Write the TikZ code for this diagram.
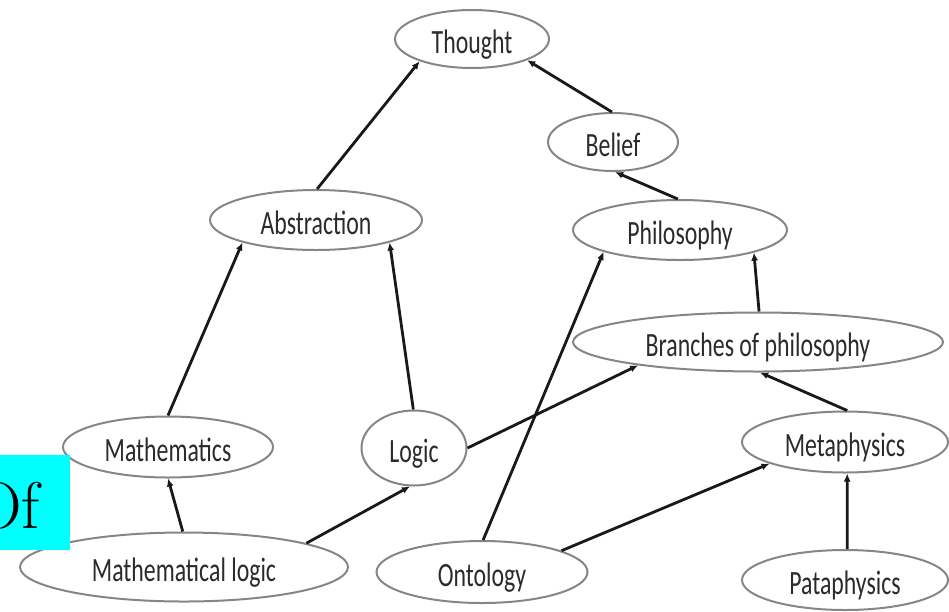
\documentclass[tikz,border=0pt]{standalone}
\usepackage{fontspec}
\usepackage{graphicx}
\newfontfamily\carlito{Carlito}
\usetikzlibrary{shapes.geometric,arrows.meta}
\definecolor{ellgray}{HTML}{868686}
\definecolor{txtgray}{HTML}{2B2B2B}
\definecolor{boxcyan}{HTML}{00FFFF}
\newcommand\cnq[1]{\scalebox{0.7}[1]{#1}}
\tikzset{
  concept/.style={ellipse, draw=ellgray, line width=2pt, inner sep=0pt,
    text height=29pt, text depth=0pt,
    text=txtgray, font=\carlito\fontsize{34}{38}\selectfont},
  arr/.style={draw=black!90, line width=2.8pt, -{Latex[length=8pt,width=7pt]}}
}
\begin{document}
\begin{tikzpicture}[x=1pt,y=-1pt]
\useasboundingbox (0,0) rectangle (949,611);
\clip (0,0) rectangle (949,611);
\fill[white] (0,0) rectangle (949,611);
% nodes
\node[concept, minimum width=154pt, minimum height=58pt] (tho) at (472,39) {\cnq{Thought}};
\node[concept, minimum width=130pt, minimum height=58pt] (bel) at (613,142) {\cnq{Belief}};
\node[concept, minimum width=212pt, minimum height=60pt] (abs) at (316,220) {\cnq{Abstraction}};
\node[concept, minimum width=214pt, minimum height=60pt] (phi) at (680,230) {\cnq{Philosophy}};
\node[concept, minimum width=370pt, minimum height=59pt] (bra) at (758,342) {\cnq{Branches of philosophy}};
\node[concept, minimum width=210pt, minimum height=61pt] (mat) at (168,447) {\cnq{Mathematics}};
\node[concept, minimum width=105pt, minimum height=75pt] (log) at (414,448) {\cnq{Logic}};
\node[concept, minimum width=206pt, minimum height=61pt] (met) at (845,442) {\cnq{Metaphysics}};
\node[concept, minimum width=328pt, minimum height=69pt] (mlo) at (184,567) {\cnq{Mathematical logic}};
\node[concept, minimum width=211pt, minimum height=62pt] (ont) at (482,572) {\cnq{Ontology}};
\node[concept, minimum width=206pt, minimum height=60pt] (pat) at (845,580) {\cnq{Pataphysics}};
% connectors
\draw[arr] (abs.88) -- (tho.203);
\draw[arr] (bel.92) -- (tho.339);
\draw[arr] (phi.94) -- (bel.274);
\draw[arr] (mat.90) -- (abs.197);
\draw[arr] (log.91) -- (abs.343);
\draw[arr] (mlo.92) -- (mat.270);
\draw[arr] (mlo.11) -- (log.264);
\draw[arr] (log.0) -- (bra.191);
\draw[arr] (ont.88) -- (phi.196);
\draw[arr] (bra.88) -- (phi.343);
\draw[arr] (met.86) -- (bra.274);
\draw[arr] (ont.15) -- (met.196);
\draw[arr] (pat.86) -- (met.274);
% cyan label
\node[fill=boxcyan, inner sep=0pt, minimum width=70pt, minimum height=95pt, anchor=north west] (ofbox) at (0,455) {};
\node[anchor=base west, inner sep=0pt, font=\fontsize{66}{70}\selectfont] (oftxt) at (-26,528) {Of};
\end{tikzpicture}
\end{document}
